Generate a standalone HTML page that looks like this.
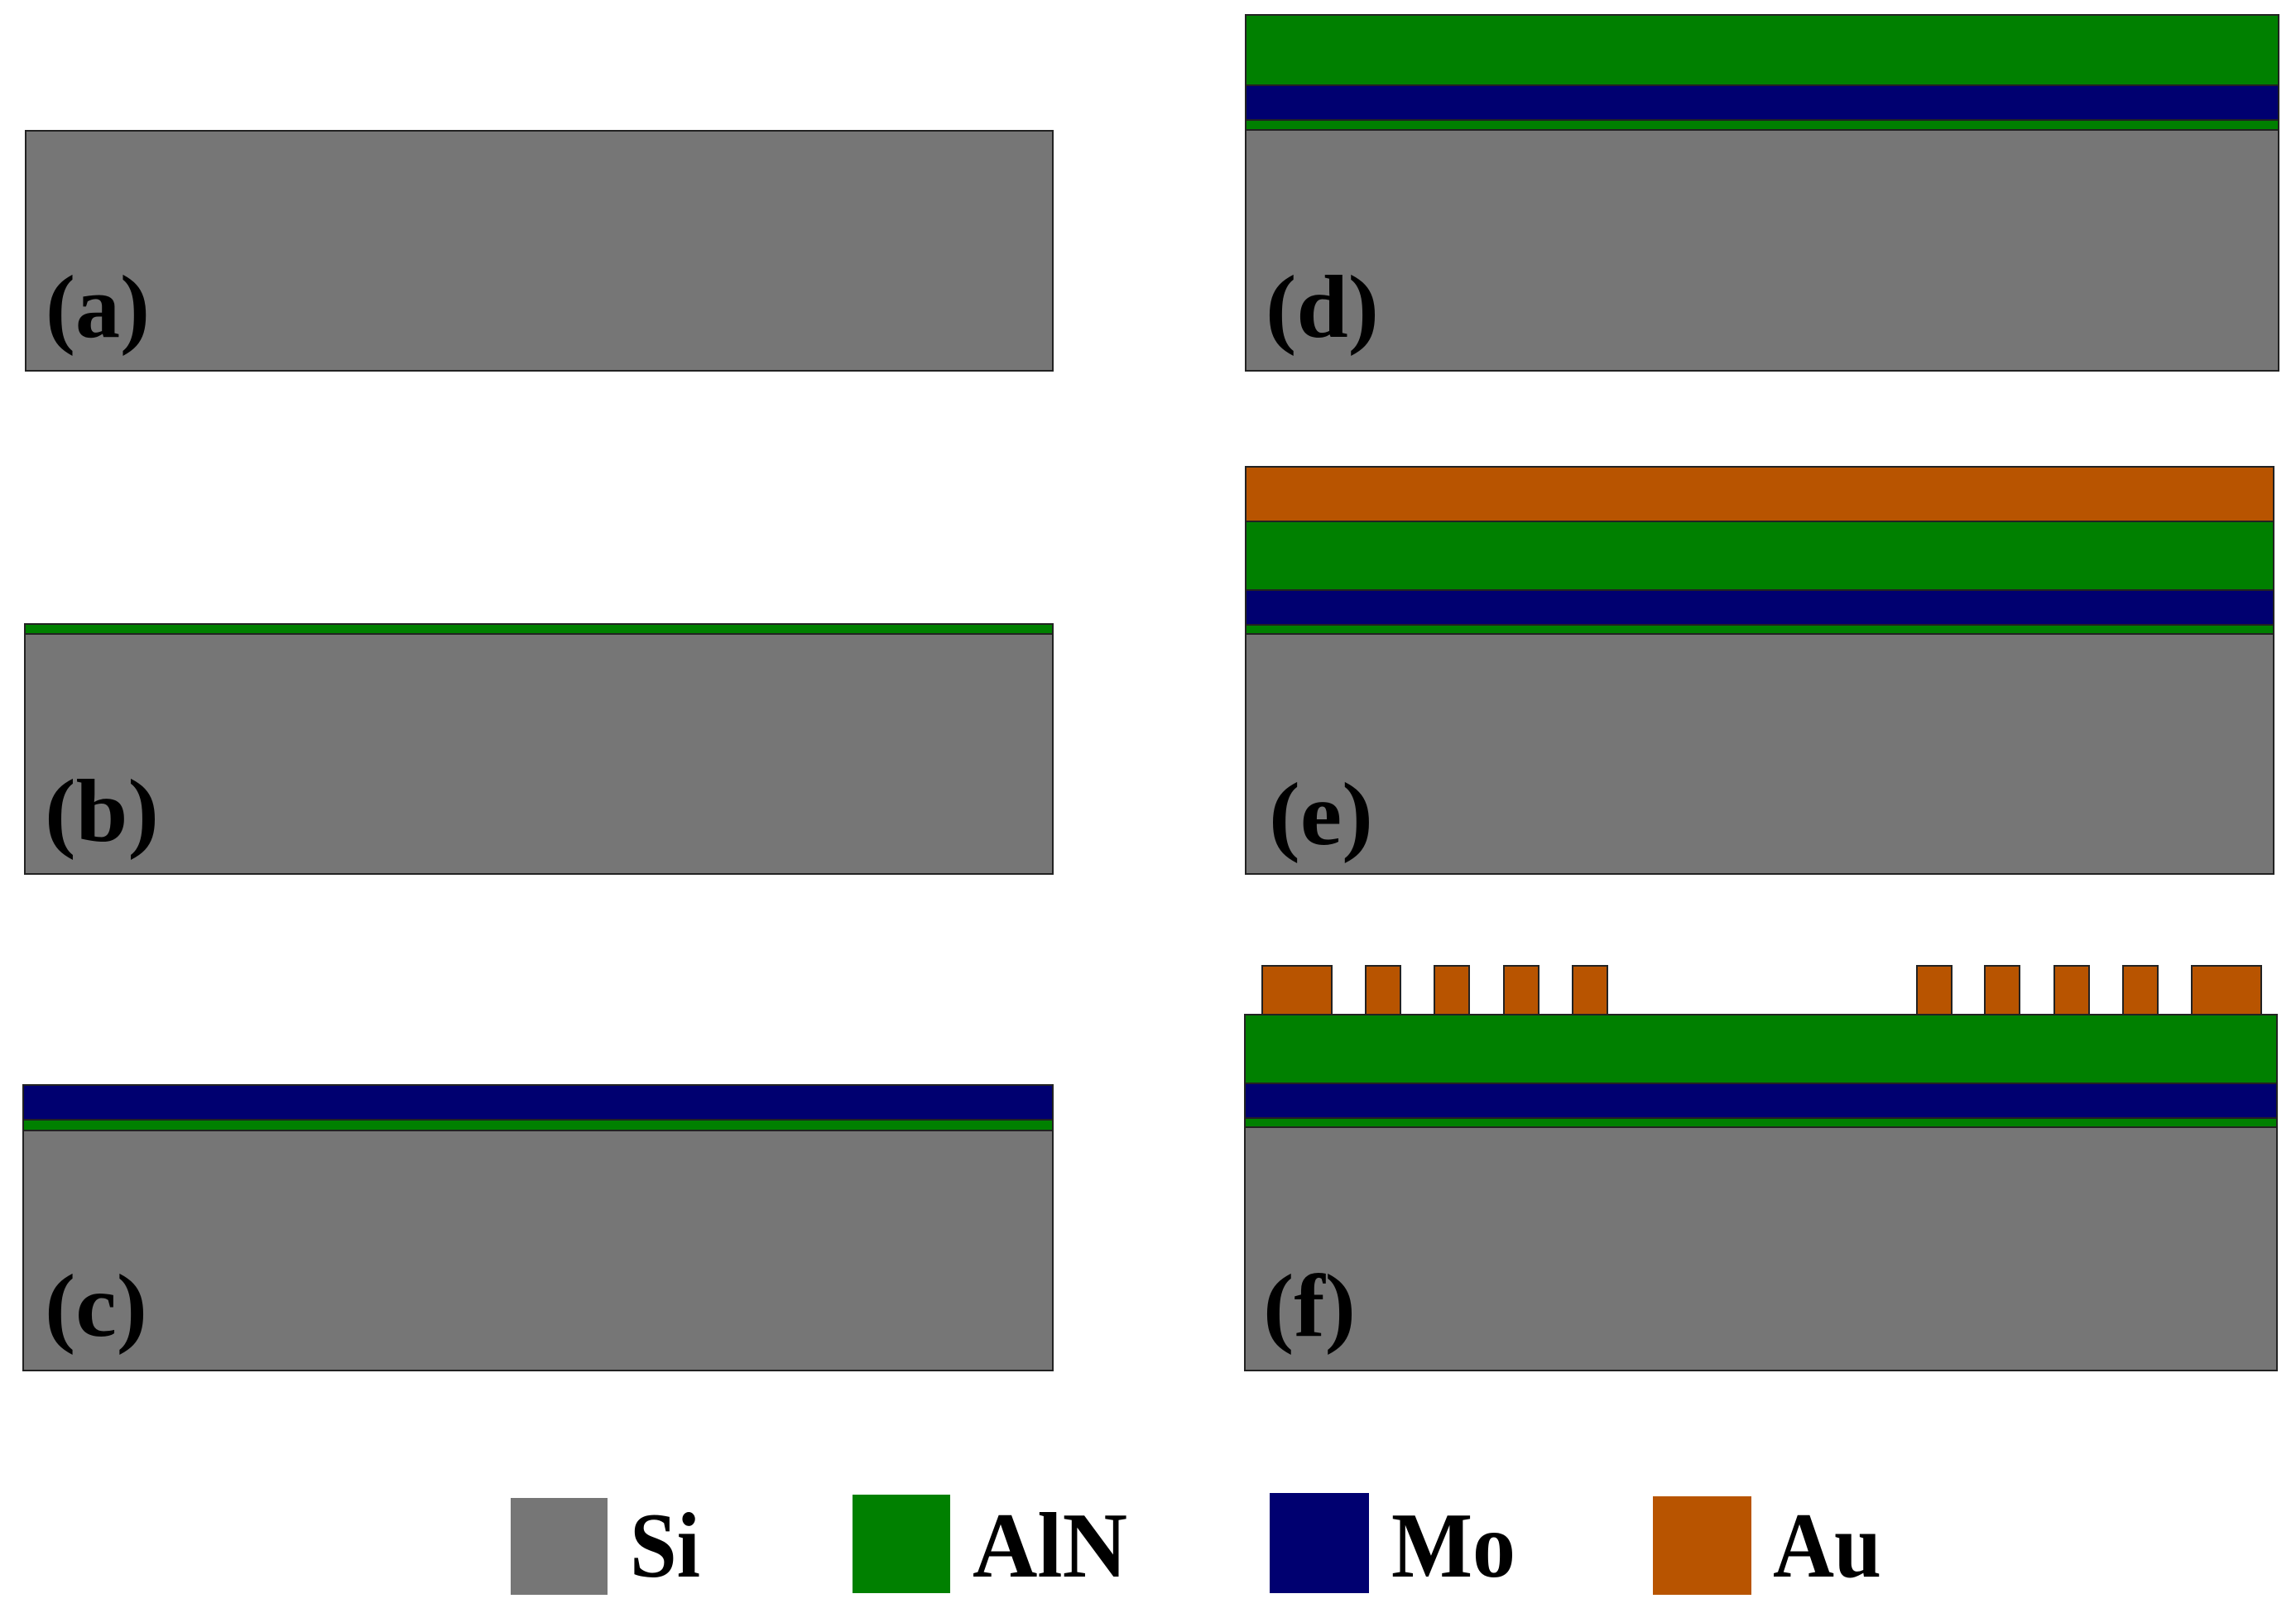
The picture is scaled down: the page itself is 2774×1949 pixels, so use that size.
<!DOCTYPE html>
<html><head><meta charset="utf-8"><style>
html,body{margin:0;padding:0;background:#fff;}
svg{display:block;}
text{font-family:"Liberation Serif",serif;font-weight:bold;fill:#000;}
</style></head><body>
<svg width="2774" height="1949" viewBox="0 0 2774 1949" xmlns="http://www.w3.org/2000/svg">
<g stroke="#222" stroke-width="2">
<rect x="31" y="158" width="1241" height="290" fill="#767676"/>
<rect x="30" y="754" width="1242" height="12" fill="#008000"/>
<rect x="30" y="766" width="1242" height="290" fill="#767676"/>
<rect x="28" y="1311" width="1244" height="42" fill="#000070"/>
<rect x="28" y="1353" width="1244" height="13" fill="#008000"/>
<rect x="28" y="1366" width="1244" height="290" fill="#767676"/>
<rect x="1505" y="18" width="1248" height="85" fill="#008000"/>
<rect x="1505" y="103" width="1248" height="42" fill="#000070"/>
<rect x="1505" y="145" width="1248" height="12" fill="#008000"/>
<rect x="1505" y="157" width="1248" height="291" fill="#767676"/>
<rect x="1505" y="564" width="1242" height="66" fill="#b85400"/>
<rect x="1505" y="630" width="1242" height="83" fill="#008000"/>
<rect x="1505" y="713" width="1242" height="42" fill="#000070"/>
<rect x="1505" y="755" width="1242" height="11" fill="#008000"/>
<rect x="1505" y="766" width="1242" height="290" fill="#767676"/>
<rect x="1525" y="1167" width="84" height="59" fill="#b85400"/>
<rect x="1650" y="1167" width="42" height="59" fill="#b85400"/>
<rect x="1733" y="1167" width="42" height="59" fill="#b85400"/>
<rect x="1817" y="1167" width="42" height="59" fill="#b85400"/>
<rect x="1900" y="1167" width="42" height="59" fill="#b85400"/>
<rect x="2316" y="1167" width="42" height="59" fill="#b85400"/>
<rect x="2398" y="1167" width="42" height="59" fill="#b85400"/>
<rect x="2482" y="1167" width="42" height="59" fill="#b85400"/>
<rect x="2565" y="1167" width="42" height="59" fill="#b85400"/>
<rect x="2648" y="1167" width="84" height="59" fill="#b85400"/>
<rect x="1504" y="1226" width="1247" height="83" fill="#008000"/>
<rect x="1504" y="1309" width="1247" height="42" fill="#000070"/>
<rect x="1504" y="1351" width="1247" height="11" fill="#008000"/>
<rect x="1504" y="1362" width="1247" height="294" fill="#767676"/>
</g>
<rect x="617" y="1810" width="117" height="117" fill="#767676"/>
<rect x="1030" y="1806" width="118" height="119" fill="#008000"/>
<rect x="1534" y="1804" width="120" height="121" fill="#000070"/>
<rect x="1997" y="1808" width="119" height="119" fill="#b85400"/>
<g font-size="112">
<text x="761" y="1905" textLength="85" lengthAdjust="spacingAndGlyphs">Si</text>
<text x="1175" y="1905" textLength="187" lengthAdjust="spacingAndGlyphs">AlN</text>
<text x="1681" y="1905" textLength="150" lengthAdjust="spacingAndGlyphs">Mo</text>
<text x="2142" y="1905" textLength="131" lengthAdjust="spacingAndGlyphs">Au</text>
</g>
<g font-size="108">
<text x="55" y="407" textLength="126" lengthAdjust="spacingAndGlyphs">(a)</text>
<text x="54" y="1016" textLength="138" lengthAdjust="spacingAndGlyphs">(b)</text>
<text x="54" y="1614" textLength="124" lengthAdjust="spacingAndGlyphs">(c)</text>
<text x="1529" y="407" textLength="137" lengthAdjust="spacingAndGlyphs">(d)</text>
<text x="1533" y="1020" textLength="126" lengthAdjust="spacingAndGlyphs">(e)</text>
<text x="1526" y="1614" textLength="112" lengthAdjust="spacingAndGlyphs">(f)</text>
</g>
</svg>
</body></html>
